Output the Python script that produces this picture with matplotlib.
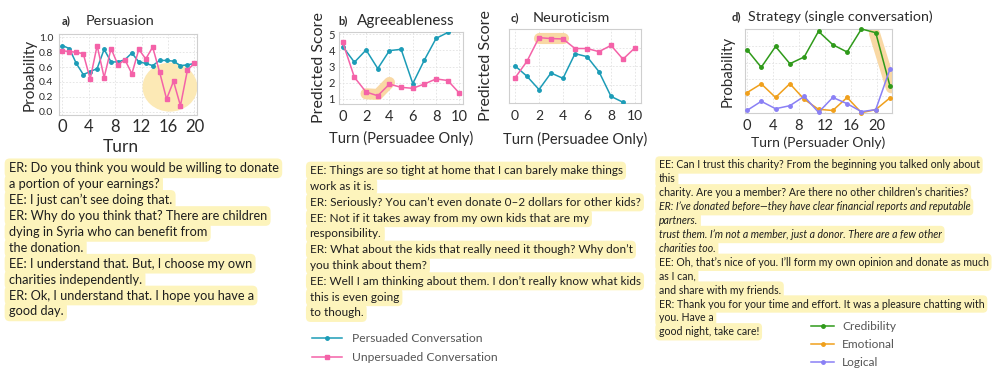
import matplotlib.pyplot as plt
from matplotlib.patches import Ellipse

plt.rcParams['font.family'] = ['Lato', 'DejaVu Sans']
plt.rcParams['text.color'] = '#2b2b2b'
plt.rcParams['axes.labelcolor'] = '#2b2b2b'

W, H = 996, 374

# a) persuasion probability per turn
turns_a = [0, 1.05, 2.1, 3.16, 4.21, 5.26, 6.32, 7.37, 8.42, 9.47,
           10.53, 11.58, 12.63, 13.68, 14.74, 15.79, 16.84, 17.89, 18.95, 20]
persuaded_a = [0.89, 0.85, 0.65, 0.50, 0.54, 0.58, 0.84, 0.67, 0.67, 0.70,
               0.79, 0.67, 0.65, 0.62, 0.69, 0.69, 0.68, 0.62, 0.63, 0.65]
unpersuaded_a = [0.82, 0.81, 0.80, 0.78, 0.44, 0.89, 0.46, 0.85, 0.63, 0.70,
                 0.51, 0.84, 0.71, 0.87, 0.53, 0.17, 0.41, 0.08, 0.56, 0.65]

# b) agreeableness, c) neuroticism (persuadee turns)
turns_bc = [0, 1, 2, 3, 4, 5, 6, 7, 8, 9, 10]
persuaded_b = [4.24, 3.27, 4.03, 2.88, 3.99, 4.07, 1.95, 3.42, 4.75, 5.11]
unpersuaded_b = [4.5, 2.34, 1.43, 1.2, 1.92, 1.72, 1.66, 1.93, 2.24, 2.14, 1.35]
persuaded_c = [3.02, 2.45, 1.73, 2.63, 2.34, 3.68, 3.52, 2.7, 1.36, 1.04]
unpersuaded_c = [2.36, 3.27, 4.55, 4.5, 4.48, 3.96, 3.96, 3.79, 4.13, 3.38, 4.0]

# d) strategy probabilities (persuader turns)
turns_d = [0, 2.2, 4.4, 6.6, 8.8, 11, 13.2, 15.4, 17.6, 19.8, 22]
credibility = [0.754, 0.544, 0.792, 0.587, 0.667, 0.972, 0.813, 0.726, 1.0, 0.956, 0.317]
emotional = [0.242, 0.347, 0.185, 0.349, 0.163, 0.044, 0.03, 0.185, 0.004, 0.04, 0.181]
logical = [0.03, 0.139, 0.051, 0.087, 0.198, 0.008, 0.185, 0.111, 0.016, 0.04, 0.526]

teal = '#1c9cb7'
pink = '#f462a8'
green = '#2f9a1a'
orange = '#f0a01c'
purple = '#8a80f5'
hl = '#f9d8a4'
textbg = '#fdf4bc'

block1 = ["ER: Do you think you would be willing to donate",
          "a portion of your earnings?",
          "EE: I just can\u2019t see doing that.",
          "ER: Why do you think that? There are children",
          "dying in Syria who can benefit from",
          "the donation.",
          "EE: I understand that. But, I choose my own",
          "charities independently.",
          "ER: Ok, I understand that. I hope you have a",
          "good day."]
block2 = ["EE: Things are so tight at home that I can barely make things",
          "work as it is.",
          "ER: Seriously? You can\u2019t even donate 0\u20132 dollars for other kids?",
          "EE: Not if it takes away from my own kids that are my",
          "responsibility.",
          "ER: What about the kids that really need it though? Why don\u2019t",
          "you think about them?",
          "EE: Well I am thinking about them. I don\u2019t really know what kids",
          "this is even going",
          "to though."]
block3 = ["EE: Can I trust this charity? From the beginning you talked only about",
          "this",
          "charity. Are you a member? Are there no other children\u2019s charities?",
          "ER: I\u2019ve donated before\u2014they have clear financial reports and reputable",
          "partners.",
          "trust them. I\u2019m not a member, just a donor. There are a few other",
          "charities too.",
          "EE: Oh, that\u2019s nice of you. I\u2019ll form my own opinion and donate as much",
          "as I can,",
          "and share with my friends.",
          "ER: Thank you for your time and effort. It was a pleasure chatting with",
          "you. Have a",
          "good night, take care!"]
italic3 = [3, 4, 5, 6]


def box(l, t, r, b):
    return [l / W, 1 - b / H, (r - l) / W, (b - t) / H]


def style(ax):
    for s in ax.spines.values():
        s.set_color('#cfcfcf')
        s.set_linewidth(0.8)
    ax.grid(True, color='#e2e2e2', linestyle=(0, (2, 2)), linewidth=0.6)
    ax.set_axisbelow(True)
    ax.tick_params(length=0, colors='#2b2b2b')


fig = plt.figure(figsize=(W / 100, H / 100), dpi=100)

# panel a
ax = fig.add_axes(box(59, 34, 197, 115))
style(ax)
ax.add_patch(Ellipse((16.3, 0.33), 8.1, 0.64, color='#fce9b5', zorder=1, clip_on=False))
ax.plot(turns_a, persuaded_a, color=teal, marker='o', ms=2.5, lw=1.1, zorder=3)
ax.plot(turns_a, unpersuaded_a, color=pink, marker='s', ms=2.5, lw=1.1, zorder=3)
ax.set_xlim(-0.52, 20.4)
ax.set_ylim(-0.045, 1.046)
ax.set_xticks([0, 4, 8, 12, 16, 20])
ax.set_yticks([0.0, 0.2, 0.4, 0.6, 0.8, 1.0])
ax.set_yticklabels(['0.0', '0.2', '0.4', '0.6', '0.8', '1.0'])
ax.tick_params(axis='x', labelsize=12, pad=3)
ax.tick_params(axis='y', labelsize=7.5, pad=4)
ax.set_xlabel('Turn', fontsize=12.5, labelpad=1)
ax.xaxis.set_label_coords(0.45, -0.3)
ax.set_ylabel('Probability', fontsize=11, labelpad=2)

# panel b
ax = fig.add_axes(box(339, 32, 463, 104))
style(ax)
ax.plot([2, 3, 4], [1.32, 1.28, 2.02], color=hl, lw=8, solid_capstyle='round',
        solid_joinstyle='round', zorder=1)
lp, = ax.plot(turns_bc[:10], persuaded_b, color=teal, marker='o', ms=2.5, lw=1.1, zorder=3)
lu, = ax.plot(turns_bc, unpersuaded_b, color=pink, marker='s', ms=2.5, lw=1.1, zorder=3)
ax.set_xlim(-0.32, 10.3)
ax.set_ylim(0.69, 5.14)
ax.set_xticks([0, 2, 4, 6, 8, 10])
ax.set_yticks([1, 2, 3, 4, 5])
ax.tick_params(axis='x', labelsize=10.5, pad=4)
ax.tick_params(axis='y', labelsize=8, pad=3)
ax.set_xlabel('Turn (Persuadee Only)', fontsize=10.5, labelpad=5)
ax.set_ylabel('Predicted Score', fontsize=11.5, labelpad=2)

# panel c
ax = fig.add_axes(box(509, 29, 641, 103))
style(ax)
ax.plot([2, 4], [4.52, 4.52], color=hl, lw=8, solid_capstyle='round', zorder=1)
ax.plot(turns_bc[:10], persuaded_c, color=teal, marker='o', ms=2.5, lw=1.1, zorder=3)
ax.plot(turns_bc, unpersuaded_c, color=pink, marker='s', ms=2.5, lw=1.1, zorder=3)
ax.set_xlim(-0.5, 10.5)
ax.set_ylim(1.05, 5.02)
ax.set_xticks([0, 2, 4, 6, 8, 10])
ax.set_yticks([1, 2, 3, 4, 5])
ax.set_yticklabels([])
ax.tick_params(axis='x', labelsize=10, pad=5)
ax.set_xlabel('Turn (Persuadee Only)', fontsize=10.5, labelpad=7)
ax.set_ylabel('Predicted Score', fontsize=11.5, labelpad=8)

# panel d
ax = fig.add_axes(box(745, 29, 892, 113))
style(ax)
ax.plot([19.6, 22.2], [0.95, 0.3], color=hl, lw=8, solid_capstyle='round', zorder=1)
lc, = ax.plot(turns_d, credibility, color=green, marker='o', ms=2.5, lw=1.1, zorder=3, clip_on=False)
le, = ax.plot(turns_d, emotional, color=orange, marker='o', ms=2.5, lw=1.1, zorder=3, clip_on=False)
ll, = ax.plot(turns_d, logical, color=purple, marker='o', ms=2.5, lw=1.1, zorder=3, clip_on=False)
ax.set_xlim(-0.3, 22.3)
ax.set_ylim(0, 1.0)
ax.set_xticks([0, 4, 8, 12, 16, 20])
ax.set_yticks([0, 0.2, 0.4, 0.6, 0.8, 1.0])
ax.set_yticklabels([])
ax.tick_params(axis='x', labelsize=10.5, pad=4)
ax.set_xlabel('Turn (Persuader Only)', fontsize=10, labelpad=3)
ax.set_ylabel('Probability', fontsize=10.8, labelpad=4)

# panel titles
titles = [(62, 21, 'a)', 86, 'Persuasion', 10.4),
          (338, 21, 'b)', 357, 'Agreeableness', 11),
          (511, 18, 'c)', 533, 'Neuroticism', 10.4),
          (732, 17, 'd)', 748, 'Strategy (single conversation)', 10.3)]
for x0, y0, tag, x1, name, fs in titles:
    fig.text(x0 / W, 1 - y0 / H, tag, fontsize=8, fontweight='bold', va='center')
    fig.text(x1 / W, 1 - y0 / H, name, fontsize=fs, va='center')

# dialogue excerpts
def excerpt(lines, x, y, dy, fs, italic=()):
    for i, line in enumerate(lines):
        fig.text(x / W, 1 - (y + i * dy) / H, line, fontsize=fs, va='center',
                 color='#1e1e1e', style='italic' if i in italic else 'normal',
                 bbox=dict(boxstyle='round,pad=0.3,rounding_size=0.4', fc=textbg, ec='none'))

excerpt(block1, 8.5, 168.3, 15.9, 9.2)
excerpt(block2, 309.5, 170.7, 15.8, 8.5)
excerpt(block3, 658.5, 165, 13.9, 7.6, italic3)

fig.legend([lp, lu], ['Persuaded Conversation', 'Unpersuaded Conversation'],
           loc='upper left', bbox_to_anchor=(312 / W, 1 - 333 / H), frameon=False,
           fontsize=8.7, handlelength=2.5, handletextpad=0.8, labelspacing=0.7,
           borderpad=0, borderaxespad=0, labelcolor='#555555')
fig.legend([lc, le, ll], ['Credibility', 'Emotional', 'Logical'],
           loc='upper left', bbox_to_anchor=(811 / W, 1 - 321 / H), frameon=False,
           fontsize=8.6, handlelength=1.95, handletextpad=0.65, labelspacing=0.6,
           borderpad=0, borderaxespad=0, labelcolor='#555555')

fig.savefig('out.png', dpi=100)
